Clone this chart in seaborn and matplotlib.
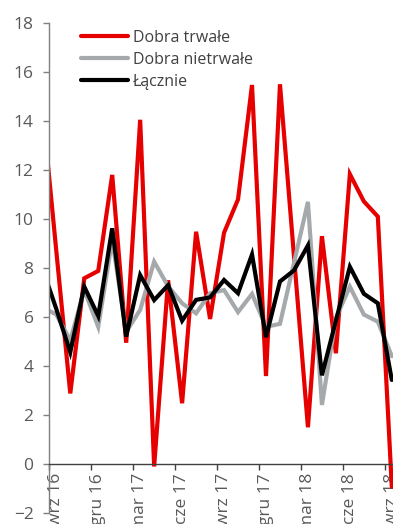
import numpy as np
import pandas as pd
import matplotlib
matplotlib.use("Agg")
import matplotlib.pyplot as plt
import seaborn as sns
from matplotlib.ticker import FixedLocator, NullFormatter

# ---- data (monthly, y/y %) ----
months = ["sie 16", "wrz 16", "paź 16", "lis 16", "gru 16", "sty 17", "lut 17", "mar 17",
          "kwi 17", "maj 17", "cze 17", "lip 17", "sie 17", "wrz 17", "paź 17", "lis 17",
          "gru 17", "sty 18", "lut 18", "mar 18", "kwi 18", "maj 18", "cze 18", "lip 18",
          "sie 18", "wrz 18"]
trwale = [14.6, 8.7, 2.88, 7.58, 7.88, 11.8, 4.95, 14.05, -0.1, 7.5, 2.48, 9.48, 5.92,
          9.44, 10.8, 15.47, 3.59, 15.5, 8.5, 1.5, 9.3, 4.52, 11.83, 10.72, 10.1, -0.93]
nietrwale = [6.4, 6.1, 5.05, 7.1, 5.6, 9.15, 5.4, 6.29, 8.26, 7.25, 6.56, 6.15, 6.97,
             7.1, 6.2, 6.94, 5.6, 5.72, 8.2, 10.7, 2.41, 5.96, 7.24, 6.1, 5.81, 4.4]
lacznie = [8.0, 6.33, 4.56, 7.24, 6.04, 9.62, 5.2, 7.71, 6.69, 7.3, 5.85, 6.7, 6.8,
           7.51, 6.97, 8.55, 5.18, 7.45, 7.9, 8.92, 3.62, 5.85, 8.05, 6.95, 6.56, 3.43]
series_names = ["Dobra trwałe", "Dobra nietrwałe", "Łącznie"]
tick_labels = ["wrz 16", "gru 16", "mar 17", "cze 17", "wrz 17", "gru 17", "mar 18",
               "cze 18", "wrz 18"]
y_ticks = list(range(-2, 19, 2))

colors = ["#E60000", "#A6A9AB", "#000000"]

sns.set_theme(style="white")
plt.rcParams["font.family"] = ["Open Sans", "DejaVu Sans"]
plt.rcParams["lines.solid_joinstyle"] = "miter"

pos = np.arange(len(months)) - 1
df = pd.DataFrame({
    "pos": np.tile(pos, 3),
    "value": trwale + nietrwale + lacznie,
    "series": np.repeat(series_names, len(months)),
})

W, H = 393, 524
fig = plt.figure(figsize=(W / 100, H / 100), dpi=100)
ax = fig.add_axes([49.3 / W, 11 / H, 349.5 / W, 490 / H])

sns.lineplot(data=df, x="pos", y="value", hue="series", hue_order=series_names,
             palette=colors, linewidth=3.0, ax=ax, legend=True)

ax.set_xlim(-0.5, 24.5)
ax.set_ylim(-2, 18)
ax.set_xlabel("")
ax.set_ylabel("")

# x axis: boundary ticks (major) + centered labels (minor)
ax.xaxis.set_major_locator(FixedLocator(np.arange(-0.5, 24, 3)))
ax.xaxis.set_major_formatter(NullFormatter())
ax.xaxis.set_minor_locator(FixedLocator(np.arange(0, 25, 3)))
ax.set_xticklabels(tick_labels, minor=True)
ax.tick_params(axis="x", which="major", direction="out", length=4.3, width=1,
               color="#404040", bottom=True)
ax.tick_params(axis="x", which="minor", length=0, pad=6.5, labelsize=12.5,
               labelcolor="#595959", labelrotation=90, bottom=True)

ax.set_yticks(y_ticks)
ax.tick_params(axis="y", direction="out", length=4.3, width=1, color="#7f7f7f",
               pad=7, labelsize=12.5, labelcolor="#595959", left=True)

for s in ["top", "right"]:
    ax.spines[s].set_visible(False)
ax.spines["left"].set_color("#7f7f7f")
ax.spines["left"].set_linewidth(1)
ax.spines["bottom"].set_position(("data", 0))
ax.spines["bottom"].set_color("#404040")
ax.spines["bottom"].set_linewidth(1)

handles, labels = ax.get_legend_handles_labels()
ax.legend(handles, labels, loc="upper left", bbox_to_anchor=(81 / W, 1 - 30 / H),
          bbox_transform=fig.transFigure, frameon=False, fontsize=11.5,
          handlelength=2.95, handletextpad=0.3, labelspacing=0.37, borderpad=0,
          borderaxespad=0, labelcolor="#404040")

fig.savefig("out.png", dpi=100)
